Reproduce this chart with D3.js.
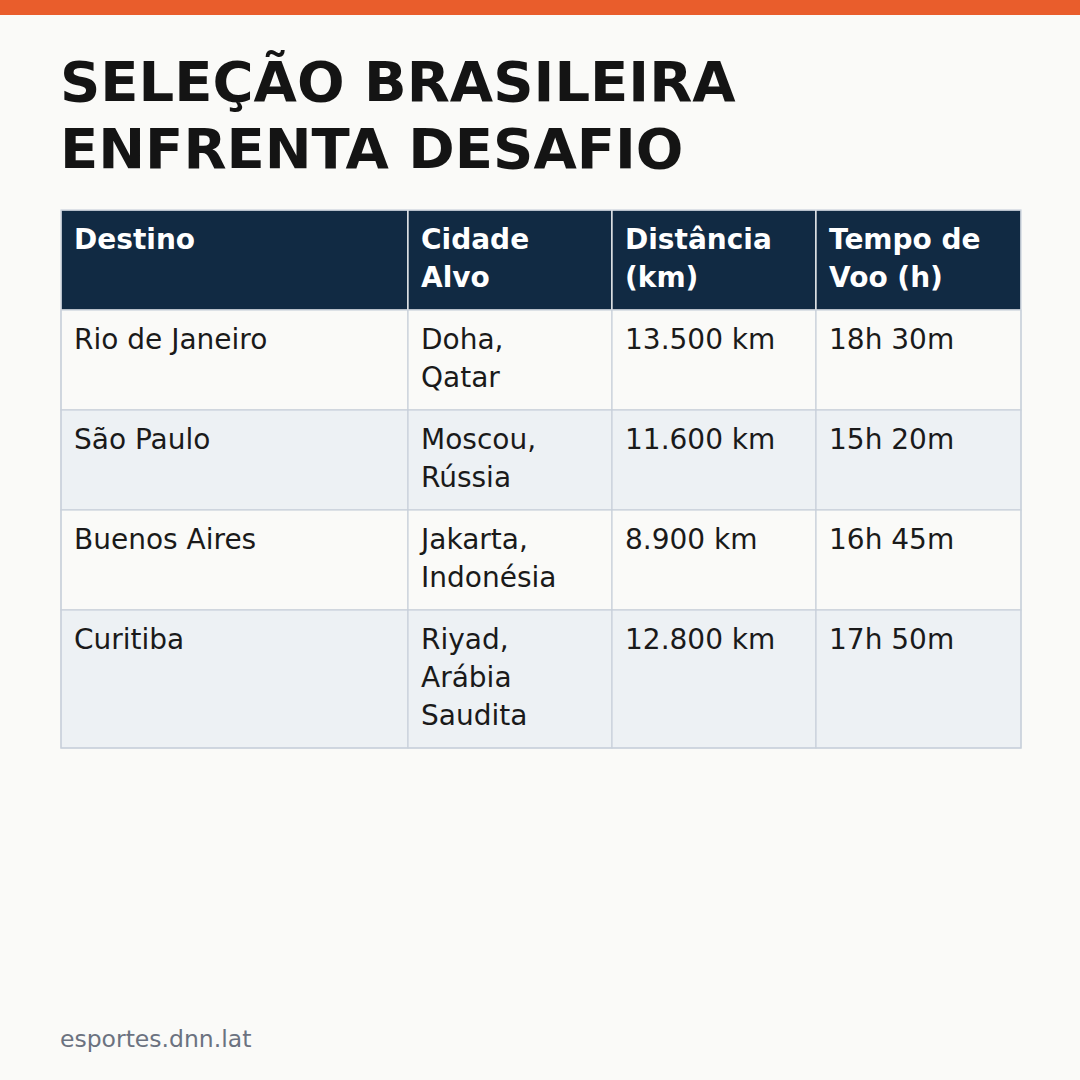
<!DOCTYPE html>
<html><head><meta charset="utf-8">
<script src="https://cdn.jsdelivr.net/npm/d3@7"></script>
<style>body{margin:0;background:#FAFAF8;}svg{display:block;font-family:"DejaVu Sans",sans-serif;}</style>
</head><body>
<div id="chart"></div>
<script>
'use strict';

var titleLines = ['SELEÇÃO BRASILEIRA', 'ENFRENTA DESAFIO'];
var headers = ['Destino', 'Cidade Alvo', 'Distância (km)', 'Tempo de Voo (h)'];
var destinos = ['Rio de Janeiro', 'São Paulo', 'Buenos Aires', 'Curitiba'];
var cidades = ['Doha, Qatar', 'Moscou, Rússia', 'Jakarta, Indonésia', 'Riyad, Arábia Saudita'];
var distancias = ['13.500 km', '11.600 km', '8.900 km', '12.800 km'];
var tempos = ['18h 30m', '15h 20m', '16h 45m', '17h 50m'];
var source = 'esportes.dnn.lat';

var W = 1080, H = 1080;
var colEdges = [61, 408, 612, 816, 1021];
var FONT = 28, LINE = 38, PAD = 13;

var svg = d3.select('#chart').append('svg').attr('width', W).attr('height', H);
svg.append('rect').attr('width', W).attr('height', H).attr('fill', '#FAFAF8');
svg.append('rect').attr('width', W).attr('height', 15).attr('fill', '#E95D2C');

svg.selectAll('text.title').data(titleLines).enter().append('text')
    .attr('class', 'title')
    .attr('x', 60)
    .attr('y', function(d, i) { return 101 + i * 67; })
    .attr('font-size', 56).attr('font-weight', 'bold').attr('fill', '#141414')
    .text(function(d) { return d; });

// measure & wrap
var meas = svg.append('text').attr('font-size', FONT);
function wrap(text, maxW, bold) {
    meas.attr('font-weight', bold ? 'bold' : 'normal');
    var words = text.split(' '), lines = [], cur = '';
    words.forEach(function(w) {
        var t = cur ? cur + ' ' + w : w;
        meas.text(t);
        if (cur && meas.node().getComputedTextLength() > maxW) { lines.push(cur); cur = w; }
        else cur = t;
    });
    lines.push(cur);
    return lines;
}

var rows = [{cells: headers, header: true}];
destinos.forEach(function(d, i) {
    rows.push({cells: [d, cidades[i], distancias[i], tempos[i]], header: false, idx: i});
});

var y = 210;
rows.forEach(function(r) {
    r.lines = r.cells.map(function(c, j) {
        return wrap(c, colEdges[j + 1] - colEdges[j] - 2 * PAD - 14, r.header);
    });
    var n = d3.max(r.lines, function(l) { return l.length; });
    r.y = y; r.h = 24 + n * LINE; y += r.h;
});
meas.remove();

var g = svg.append('g');
rows.forEach(function(r) {
    var fill = r.header ? '#112A43' : (r.idx % 2 === 1 ? '#EDF1F4' : '#FAFAF8');
    r.lines.forEach(function(lines, j) {
        var x0 = colEdges[j], w = colEdges[j + 1] - x0;
        g.append('rect').attr('x', x0).attr('y', r.y).attr('width', w).attr('height', r.h)
            .attr('fill', fill)
            .attr('stroke', r.header ? '#FFFFFF' : '#C8D0DA').attr('stroke-width', 1.2);
        g.selectAll(null).data(lines).enter().append('text')
            .attr('x', x0 + PAD)
            .attr('y', function(d, k) { return r.y + 39 + k * LINE; })
            .attr('font-size', FONT)
            .attr('font-weight', r.header ? 'bold' : 'normal')
            .attr('fill', r.header ? '#FFFFFF' : '#1A1A1A')
            .text(function(d) { return d; });
    });
});
// outer border
g.append('rect').attr('x', colEdges[0]).attr('y', 210)
    .attr('width', colEdges[4] - colEdges[0]).attr('height', y - 210)
    .attr('fill', 'none').attr('stroke', '#C8D0DA').attr('stroke-width', 1.2);

svg.append('text').attr('x', 60).attr('y', 1047)
    .attr('font-size', 23.5).attr('fill', '#6B7280').text(source);
</script>
</body></html>
